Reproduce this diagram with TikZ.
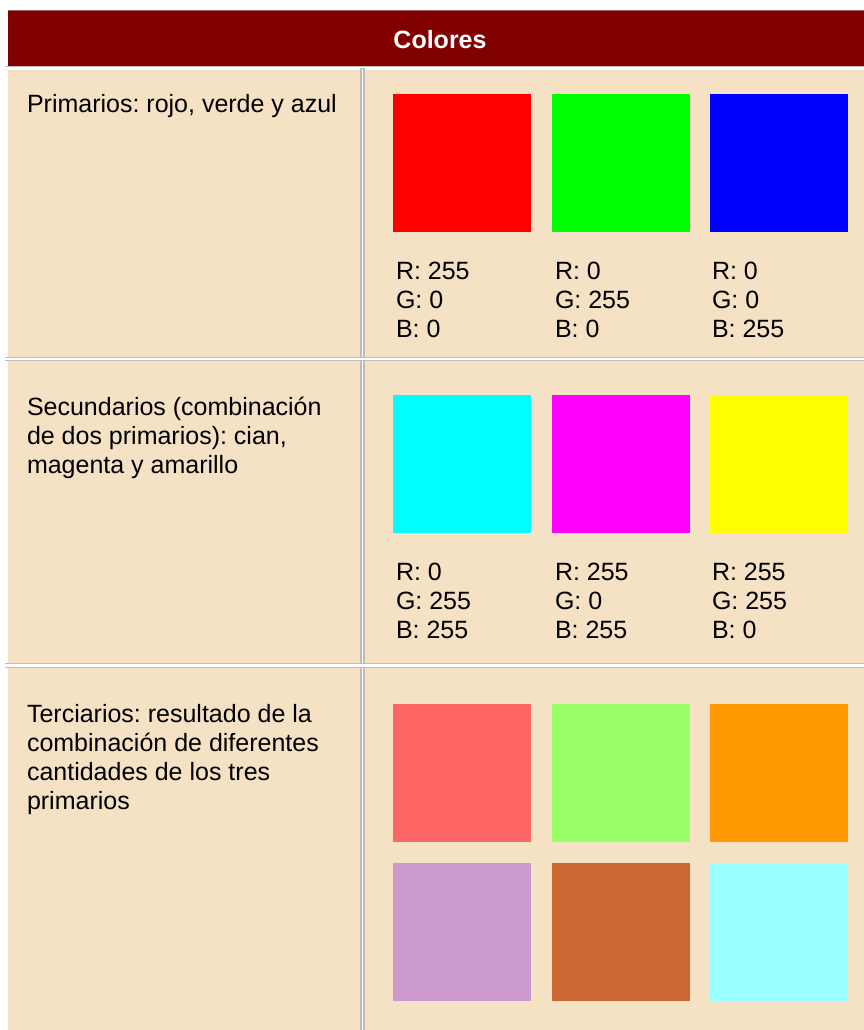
\documentclass[tikz,border=0pt]{standalone}
\usepackage{fontspec}
\setmainfont{Liberation Sans}
\frenchspacing
\definecolor{hdr}{HTML}{800000}
\definecolor{hdredge}{HTML}{A06060}
\definecolor{cellbg}{HTML}{F5E1C3}
\definecolor{sepgray}{HTML}{C0BCB8}
\definecolor{cRed}{HTML}{FF0000}
\definecolor{cGreen}{HTML}{00FF00}
\definecolor{cBlue}{HTML}{0000FF}
\definecolor{cCyan}{HTML}{00FFFF}
\definecolor{cMagenta}{HTML}{FF00FF}
\definecolor{cYellow}{HTML}{FFFF00}
\definecolor{tA}{HTML}{FF6666}
\definecolor{tB}{HTML}{99FF66}
\definecolor{tC}{HTML}{FF9900}
\definecolor{tD}{HTML}{CC99CC}
\definecolor{tE}{HTML}{CC6633}
\definecolor{tF}{HTML}{99FFFF}
\begin{document}
\begin{tikzpicture}[x=1bp,y=-1bp,
  swatch/.style={anchor=north west, inner sep=0pt, outer sep=0pt, minimum width=138bp, minimum height=138bp, draw=none},
  txt/.style={anchor=base west, inner sep=0pt, outer sep=0pt, text=black, font=\fontsize{25bp}{29bp}\selectfont\frenchspacing},
  hdrtxt/.style={inner sep=0pt, text=white, font=\fontsize{25bp}{29bp}\selectfont\bfseries}]
\useasboundingbox (0,0) rectangle (864,1030);
\fill[white] (0,0) rectangle (864,1030);
% header
\fill[hdr] (8,10) rectangle (864,66);
\fill[hdredge] (8,10) rectangle (864,11);
\fill[sepgray] (5,66) rectangle (864,67);
\node[hdrtxt, anchor=base] (title) at (440,48) {Colores};
% cell backgrounds
\fill[cellbg] (8,70) rectangle (360,357);
\fill[cellbg] (364.5,70) rectangle (864,357);
\fill[cellbg] (8,361) rectangle (360,663);
\fill[cellbg] (364.5,361) rectangle (864,663);
\fill[cellbg] (8,668) rectangle (360,1030);
\fill[cellbg] (364.5,668) rectangle (864,1030);
% vertical separator
\fill[sepgray] (360,68) rectangle (364.5,1030);
\fill[white] (361.5,69) rectangle (363,1030);
% horizontal separators
\fill[sepgray] (5,357) rectangle (864,361);
\fill[white] (5,358) rectangle (864,360);
\fill[sepgray] (5,663) rectangle (864,668);
\fill[white] (5,664) rectangle (864,667);
% left column texts
\node[txt] (prim) at (27,112) {Primarios: rojo, verde y azul};
\node[txt] (sec) at (27,415.5) {\vtop{\hbox{Secundarios (combinación}\hbox{de dos primarios): cian,}\hbox{magenta y amarillo}}};
\node[txt] (ter) at (27,722) {\vtop{\hbox{Terciarios: resultado de la}\hbox{combinación de diferentes}\hbox{cantidades de los tres}\hbox{primarios}}};
% primary swatches
\node[swatch, fill=cRed] (red) at (393,94) {};
\node[swatch, fill=cGreen] (green) at (552,94) {};
\node[swatch, fill=cBlue] (blue) at (710,94) {};
\node[txt] (redv) at (396,279) {\vtop{\hbox{R: 255}\hbox{G: 0}\hbox{B: 0}}};
\node[txt] (greenv) at (555,279) {\vtop{\hbox{R: 0}\hbox{G: 255}\hbox{B: 0}}};
\node[txt] (bluev) at (712,279) {\vtop{\hbox{R: 0}\hbox{G: 0}\hbox{B: 255}}};
% secondary swatches
\node[swatch, fill=cCyan] (cyan) at (393,395) {};
\node[swatch, fill=cMagenta] (magenta) at (552,395) {};
\node[swatch, fill=cYellow] (yellow) at (710,395) {};
\node[txt] (cyanv) at (396,580) {\vtop{\hbox{R: 0}\hbox{G: 255}\hbox{B: 255}}};
\node[txt] (magentav) at (555,580) {\vtop{\hbox{R: 255}\hbox{G: 0}\hbox{B: 255}}};
\node[txt] (yellowv) at (712,580) {\vtop{\hbox{R: 255}\hbox{G: 255}\hbox{B: 0}}};
% tertiary swatches
\node[swatch, fill=tA] (ta) at (393,704) {};
\node[swatch, fill=tB] (tb) at (552,704) {};
\node[swatch, fill=tC] (tc) at (710,704) {};
\node[swatch, fill=tD] (td) at (393,863) {};
\node[swatch, fill=tE] (te) at (552,863) {};
\node[swatch, fill=tF] (tf) at (710,863) {};
\end{tikzpicture}
\end{document}
